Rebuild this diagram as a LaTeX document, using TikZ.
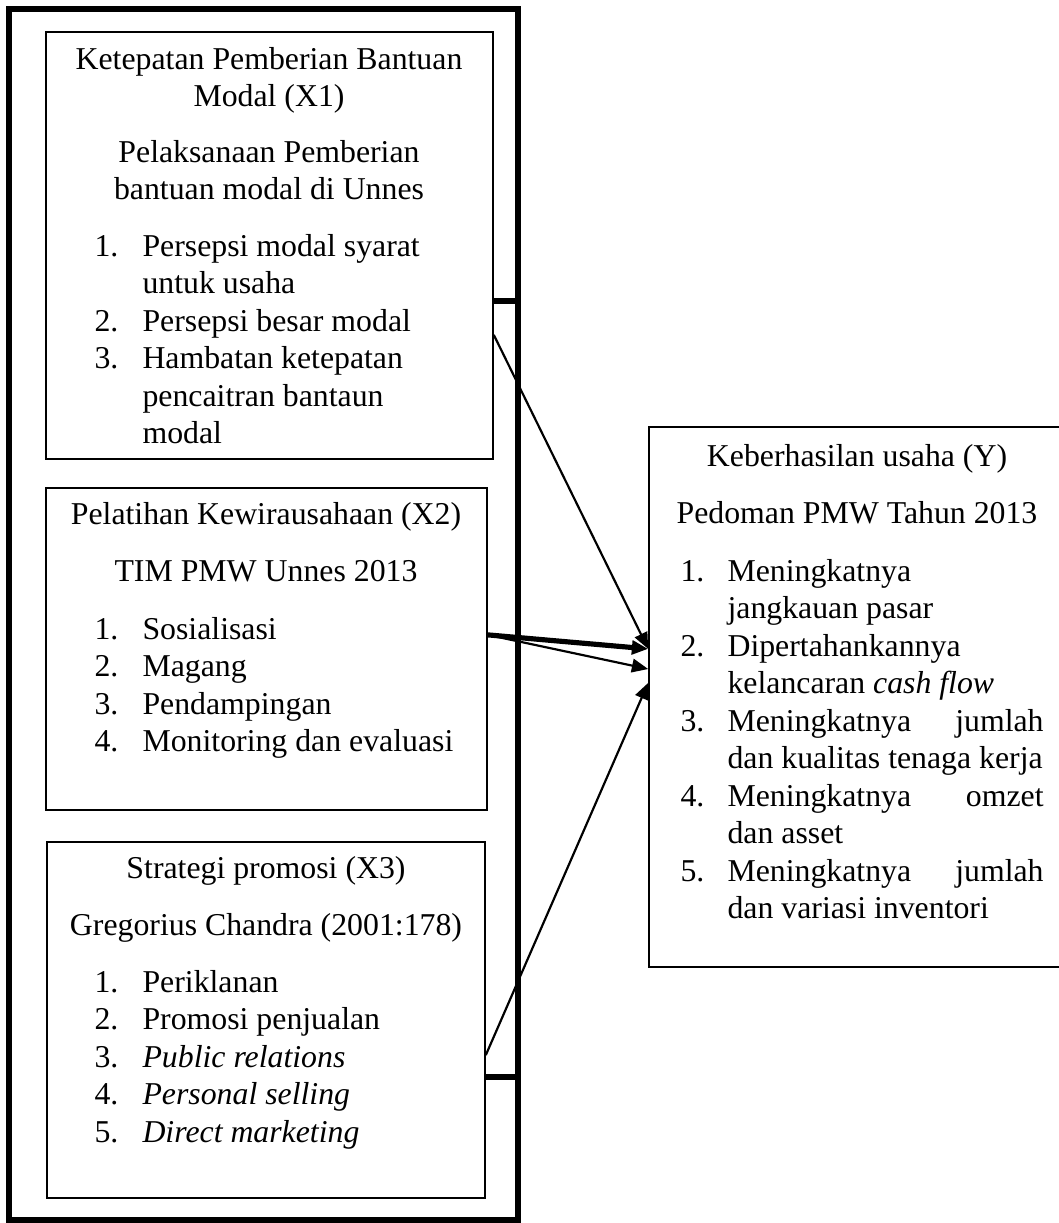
\documentclass[tikz,border=0pt]{standalone}
\usepackage{fontspec}
\setmainfont{Liberation Serif}
\usetikzlibrary{arrows.meta,fit}

\begin{document}
\begin{tikzpicture}[x=0.368pt,y=-0.368pt,
    box/.style={draw, line width=0.6pt, inner sep=0pt},
    frame/.style={draw, line width=1.9pt, inner sep=0pt},
    txt/.style={inner sep=0pt, text height=0.68em, text depth=0.22em, font=\fontsize{11.7}{13.8}\selectfont},
    num/.style={txt, anchor=west},
    item/.style={txt, anchor=west},
    link/.style={line width=1.9pt},
    arr/.style={line width=0.8pt, -{Triangle[length=6pt,width=5pt]}},
    thickarr/.style={line width=1.9pt, -{Triangle[length=6pt,width=5pt]}}]
    \useasboundingbox (0,0) rectangle (1058,1223);

    % Boxes
    \node[frame, fit={(9,9) (518,1220)}] (outer) {};
    \node[box, fit={(46,32) (493,459)}] (x1) {};
    \node[box, fit={(46,488) (487,810)}] (x2) {};
    \node[box, fit={(47,842) (485,1198)}] (x3) {};
    \node[box, fit={(649,427) (1066,967)}] (y) {};

    % X1
    \node[txt] (x1h1) at (269,63) {Ketepatan Pemberian Bantuan};
    \node[txt] (x1h2) at (269,100) {Modal (X1)};
    \node[txt] (x1s1) at (269,156) {Pelaksanaan Pemberian};
    \node[txt] (x1s2) at (269,193) {bantuan modal di Unnes};
    \foreach \yy [count=\k] in {250,325,362} \node[num] (x1n\k) at (94,\yy) {\k.};
    \foreach \yy/\t [count=\k] in {250/Persepsi modal syarat, 287/untuk usaha, 325/Persepsi besar modal,
        362/Hambatan ketepatan, 400/pencaitran bantaun, 437/modal}
        \node[item] (x1l\k) at (142,\yy) {\t};

    % X2
    \node[txt] (x2h) at (266,518) {Pelatihan Kewirausahaan (X2)};
    \node[txt] (x2s) at (266,575) {TIM PMW Unnes 2013};
    \foreach \yy/\t [count=\k] in {633/Sosialisasi, 670/Magang, 708/Pendampingan, 745/Monitoring dan evaluasi} {
        \node[num] (x2n\k) at (94,\yy) {\k.};
        \node[item] (x2l\k) at (142,\yy) {\t};
    }

    % X3
    \node[txt] (x3h) at (266,872) {Strategi promosi (X3)};
    \node[txt] (x3s) at (266,929) {Gregorius Chandra (2001:178)};
    \foreach \yy/\t [count=\k] in {986/Periklanan, 1023/Promosi penjualan, 1061/\textit{Public relations},
        1098/\textit{Personal selling}, 1136/\textit{Direct marketing}} {
        \node[num] (x3n\k) at (94,\yy) {\k.};
        \node[item] (x3l\k) at (142,\yy) {\t};
    }

    % Y
    \node[txt] (yh) at (857,460) {Keberhasilan usaha (Y)};
    \node[txt] (ys) at (857,517) {Pedoman PMW Tahun 2013};
    \foreach \yy [count=\k] in {575,650,725,800,875} \node[num] (yn\k) at (680,\yy) {\k.};
    \foreach \yy/\t [count=\k] in {575/Meningkatnya, 612/jangkauan pasar, 650/Dipertahankannya,
        687/kelancaran \textit{cash flow}, 725/{\makebox[116.3pt][s]{Meningkatnya jumlah}},
        762/dan kualitas tenaga kerja, 800/{\makebox[116.3pt][s]{Meningkatnya omzet}},
        837/dan asset, 875/{\makebox[116.3pt][s]{Meningkatnya jumlah}}, 912/dan variasi inventori}
        \node[item] (yl\k) at (727,\yy) {\t};

    % Links to the frame
    \coordinate (p1) at ([yshift=-20.4pt]x1.east);
    \coordinate (p3) at ([yshift=-21pt]x3.east);
    \draw[link] (p1) -- (p1 -| outer.east);
    \draw[link] (p3) -- (p3 -| outer.east);

    % Arrows
    \coordinate (s1) at ([yshift=-32.9pt]x1.east);
    \coordinate (s2) at ([yshift=5.2pt]x2.east);
    \coordinate (s3) at ([yshift=-12.9pt]x3.east);
    \coordinate (t1) at ([yshift=17.7pt]y.west);
    \coordinate (t2) at ([yshift=10.3pt]y.west);
    \coordinate (t3) at ([yshift=5.2pt]y.west);
    \draw[arr] (s1) -- (t1);
    \draw[thickarr] (s2) -- (t1);
    \draw[arr] (s2) -- (t2);
    \draw[arr] (s3) -- (t3);
\end{tikzpicture}
\end{document}
